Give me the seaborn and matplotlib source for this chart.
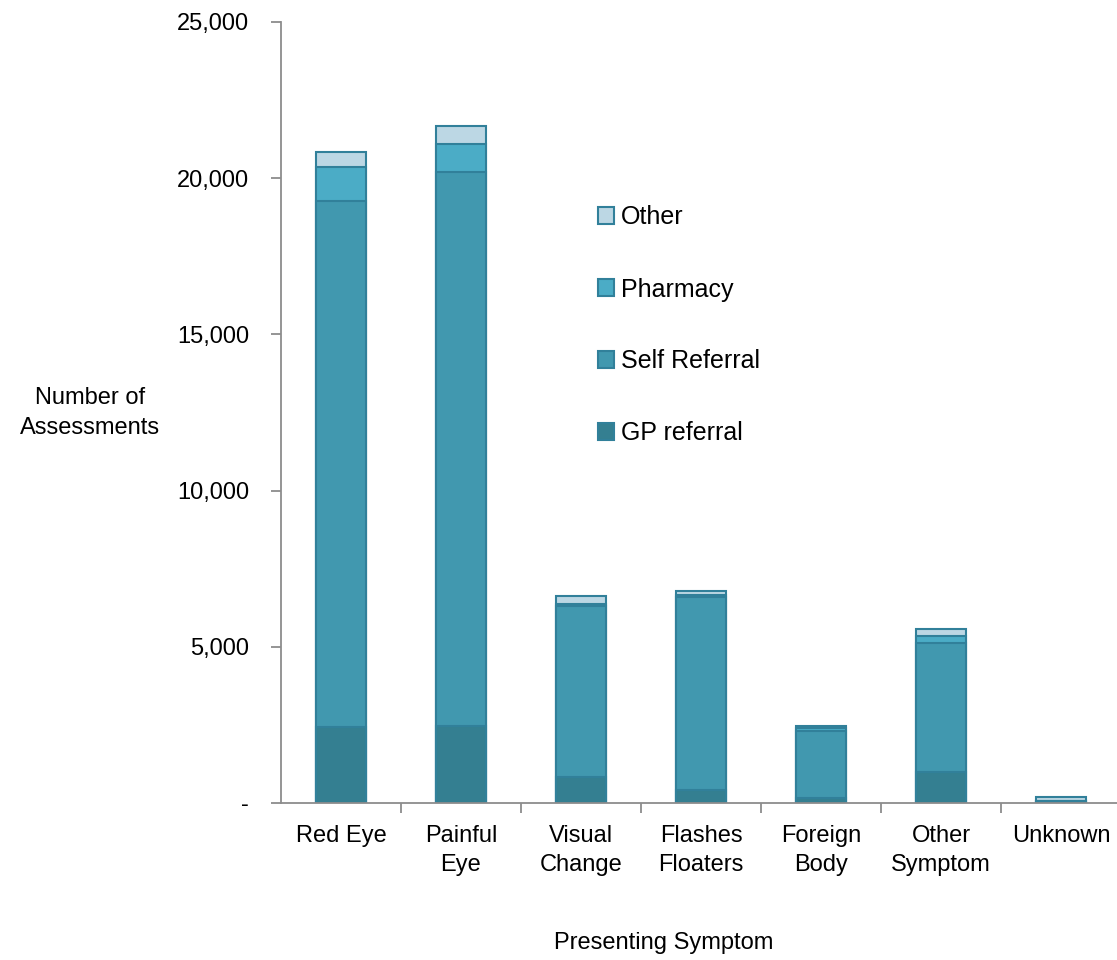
import pandas as pd
import numpy as np
import matplotlib.pyplot as plt
import seaborn as sns

# data
symptoms = ["Red Eye", "Painful\nEye", "Visual\nChange", "Flashes\nFloaters",
            "Foreign\nBody", "Other\nSymptom", "Unknown"]
gp_referral = [2430, 2460, 820, 420, 150, 990, 20]
self_referral = [16840, 17740, 5490, 6180, 2150, 4130, 40]
pharmacy = [1090, 900, 60, 50, 100, 230, 20]
other = [480, 570, 270, 140, 60, 220, 100]

series = ["GP referral", "Self Referral", "Pharmacy", "Other"]
colors = {"GP referral": "#347f91", "Self Referral": "#4198af",
          "Pharmacy": "#4bacc6", "Other": "#bcd7e4"}
edge = "#31809a"

df = pd.DataFrame({"symptom": symptoms, "GP referral": gp_referral,
                   "Self Referral": self_referral, "Pharmacy": pharmacy,
                   "Other": other})

sns.set_style("white")
plt.rcParams["font.family"] = ["Liberation Sans", "DejaVu Sans"]
plt.rcParams["text.color"] = "black"
plt.rcParams["xtick.labelcolor"] = "black"
plt.rcParams["ytick.labelcolor"] = "black"

fig = plt.figure(figsize=(11.17, 9.6), dpi=100)
ax = fig.add_axes([281 / 1117, 157 / 960, 840 / 1117, 781 / 960])

# stacked bars: draw cumulative totals from the top series down
cum = df[series].cumsum(axis=1)
for s in reversed(series):
    sns.barplot(x=df["symptom"], y=cum[s], color=colors[s], width=0.41,
                edgecolor=edge, linewidth=1.5, saturation=1, ax=ax)

ax.set_xlim(-0.5, 6.5)
ax.set_ylim(0, 25000)
ax.set_yticks(np.arange(0, 25001, 5000))
ax.set_yticklabels(["-"] + [f"{v:,}" for v in range(5000, 25001, 5000)])
ax.set_xticks(range(len(symptoms)))
ax.set_xticklabels(symptoms, linespacing=1.4)
ax.set_xticks(np.arange(0.5, 6.6, 1), minor=True)
ax.tick_params(axis="x", which="major", length=0, pad=16, labelsize=17)
ax.tick_params(axis="x", which="minor", length=7, width=1.3, color="#8c8c8c",
               direction="out", bottom=True)
ax.tick_params(axis="y", length=7, width=1.3, color="#8c8c8c", labelsize=17,
               pad=16, left=True, direction="out")
ax.set_xlabel("")
ax.set_ylabel("")
sns.despine(ax=ax)
for sp in ["left", "bottom"]:
    ax.spines[sp].set_color("#8c8c8c")
    ax.spines[sp].set_linewidth(1.3)

fig.text(90 / 1117, 1 - 413 / 960, "Number of\nAssessments", ha="center",
         va="center", fontsize=17, linespacing=1.45)
fig.text(664 / 1117, 1 - 943 / 960, "Presenting Symptom", ha="center",
         va="center", fontsize=17)

handles = [plt.Rectangle((0, 0), 1, 1, facecolor=colors[s], edgecolor=edge,
                         linewidth=1.5) for s in reversed(series)]
ax.legend(handles, list(reversed(series)), loc="upper left",
          bbox_to_anchor=(575 / 1117, 1 - 183 / 960),
          bbox_transform=fig.transFigure, frameon=False, fontsize=18,
          labelspacing=1.92, handlelength=0.65, handleheight=0.65,
          handletextpad=0.3)

fig.savefig("out.png", dpi=100)
